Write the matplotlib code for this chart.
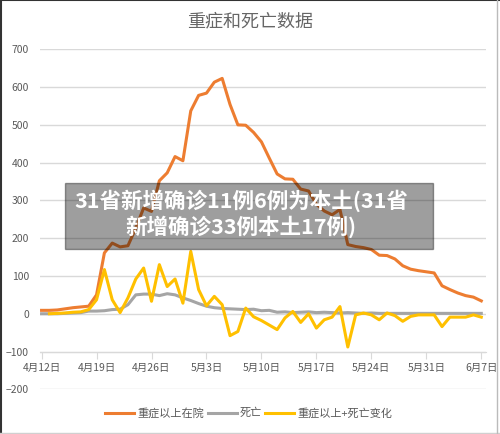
"""
重症和死亡数据 折线图
"""
import numpy as np
import matplotlib
matplotlib.use('Agg')
import matplotlib.pyplot as plt
from matplotlib.patches import Rectangle
from matplotlib.lines import Line2D

plt.rcParams['font.family'] = ['Noto Sans CJK SC', 'DejaVu Sans']

# 数据 (4月12日 - 6月7日, 每天一个点)
severe = [9, 9, 10, 13, 16, 18, 20, 50, 161, 187, 177, 180, 227, 280, 271, 352,
          373, 416, 405, 537, 578, 584, 613, 623, 554, 500, 499, 480, 455, 412,
          370, 357, 356, 330, 325, 290, 272, 262, 276, 183, 178, 175, 170, 155,
          154, 145, 127, 118, 114, 111, 108, 74, 64, 55, 48, 44, 34]
deaths = [0, 0, 0, 1, 2, 3, 7, 7, 8, 11, 12, 24, 50, 52, 52, 48, 53, 50, 42, 35,
          27, 20, 16, 14, 13, 12, 11, 12, 8, 9, 4, 5, 3, 4, 5, 3, 4, 3, 2, 3, 2,
          1, 2, 1, 1, 1, 1, 1, 1, 1, 1, 1, 1, 1, 1, 1, 1]
# 变化从4月13日开始
change = [0, 1, 2, 4, 5, 11, 37, 117, 37, 3, 42, 92, 121, 33, 130, 72, 92, 28,
          165, 64, 21, 46, 24, -58, -47, 15, -8, -18, -30, -42, -11, 6, -23, 0,
          -38, -16, -9, 19, -88, -3, 2, -3, -16, 2, -5, -20, -7, -3, -3, -3, -34,
          -9, -9, -9, -3, -9]
tick_labels = ['4月12日', '4月19日', '4月26日', '5月3日', '5月10日',
               '5月17日', '5月24日', '5月31日', '6月7日']

days = np.arange(len(severe))
days_change = np.arange(1, len(change) + 1)

fig = plt.figure(figsize=(5.0, 4.34), dpi=100)
ax = fig.add_axes([0.08, 0.103, 0.892, 0.7834])

ax.plot(days, severe, color='#ED7D31', lw=2.2, label='重症以上在院', solid_joinstyle='round')
ax.plot(days, deaths, color='#A5A5A5', lw=2.2, label='死亡', solid_joinstyle='round')
ax.plot(days_change, change, color='#FFC000', lw=2.2, label='重症以上+死亡变化', solid_joinstyle='round')

ax.set_ylim(-200, 700)
ax.set_xlim(-0.2, 56.6)
ax.set_yticks(np.arange(-200, 701, 100))
ax.set_xticks(np.arange(0, 57, 7))
ax.set_xticklabels(tick_labels)
ax.grid(axis='y', color='#D9D9D9', lw=1)
ax.set_axisbelow(True)

for s in ['top', 'right', 'left']:
    ax.spines[s].set_visible(False)
ax.spines['bottom'].set_position(('data', -100))
ax.spines['bottom'].set_color('#D9D9D9')
ax.tick_params(axis='x', length=5, color='#D9D9D9', labelsize=7.5, labelcolor='#595959', pad=3)
ax.tick_params(axis='y', length=0, labelsize=7.5, labelcolor='#595959', pad=8)

fig.text(0.5, 1 - 21 / 434, '重症和死亡数据', ha='center', va='center',
         fontsize=13, color='#666666')

fig.legend(loc='center', bbox_to_anchor=(0.498, 1 - 413 / 434), ncol=3, frameon=False,
           fontsize=8, labelcolor='#595959', handlelength=2.6, handletextpad=0.3,
           columnspacing=0.3)

# 半透明标题横幅
fig.patches.append(Rectangle((65 / 500, 1 - 249 / 434), 368 / 500, 66 / 434,
                             transform=fig.transFigure, color='black', alpha=0.38,
                             zorder=10))
fig.text(241 / 500, 1 - 214 / 434, '31省新增确诊11例6例为本土(31省\n新增确诊33例本土17例)',
         ha='center', va='center', multialignment='center', fontsize=15.5,
         fontweight='bold', color='white', linespacing=1.2, zorder=11)

# 外框
fig.lines.append(Line2D([0, 1], [0.999, 0.999], transform=fig.transFigure, color='#333333', lw=1.5))
fig.lines.append(Line2D([0.001, 0.001], [0, 1], transform=fig.transFigure, color='#333333', lw=1.5))
fig.lines.append(Line2D([0, 1], [0.002, 0.002], transform=fig.transFigure, color='#D0D0D0', lw=1))
fig.lines.append(Line2D([0.994, 0.994], [0, 1], transform=fig.transFigure, color='#BBBBBB', lw=1))

fig.savefig('out.png', dpi=100)
